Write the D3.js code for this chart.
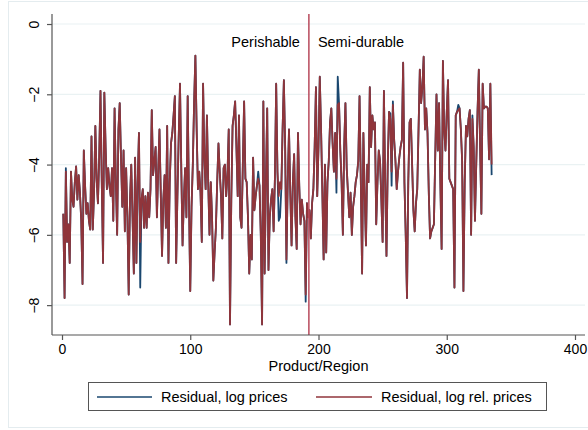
<!DOCTYPE html>
<html><head><meta charset="utf-8">
<script src="https://cdn.jsdelivr.net/npm/d3@7"></script>
<style>body{margin:0;background:#fff}svg{display:block}text{font-family:"Liberation Sans",Arial,Helvetica,sans-serif;fill:#000}</style>
</head><body><svg id="c" width="588" height="430"></svg>
<script>
// Residual, log rel. prices, product/region 1..335
const residRel = [
-5.4,-7.8,-4.2,-6.2,-5.7,-6.8,-4.2,-5.0,-5.2,-4.5,
-4.05,-5.0,-4.3,-4.8,-5.6,-7.4,-3.6,-4.6,-5.4,-5.1,
-5.6,-5.85,-3.2,-5.85,-4.8,-2.9,-4.4,-5.1,-3.8,-1.9,
-4.5,-6.8,-1.95,-3.5,-4.7,-4.1,-4.6,-4.9,-4.1,-5.6,
-2.4,-4.5,-6.0,-3.0,-2.25,-3.8,-5.2,-3.6,-5.9,-4.1,
-5.5,-7.7,-5.0,-4.0,-5.5,-7.1,-3.8,-6.8,-4.5,-3.1,
-6.2,-5.0,-4.7,-5.8,-4.9,-5.8,-4.8,-5.5,-4.7,-2.45,
-4.3,-3.9,-3.5,-5.5,-4.2,-3.0,-4.8,-6.6,-5.0,-4.3,
-5.8,-2.9,-6.8,-4.5,-3.4,-3.1,-2.6,-2.05,-6.8,-4.9,
-3.2,-1.7,-4.1,-6.3,-5.0,-4.1,-5.5,-2.05,-5.0,-7.6,
-5.2,-4.0,-2.25,-0.9,-3.0,-4.7,-4.2,-4.8,-6.2,-1.7,
-3.8,-4.7,-2.6,-4.5,-6.0,-4.5,-5.5,-7.3,-6.5,-5.8,
-4.5,-3.4,-4.2,-4.9,-6.1,-4.1,-4.0,-4.9,-4.3,-3.0,
-8.55,-5.0,-2.9,-2.6,-2.2,-3.5,-4.9,-2.6,-5.5,-5.8,
-4.0,-2.2,-4.4,-4.5,-5.5,-7.1,-6.0,-6.7,-3.8,-5.3,
-4.9,-4.6,-4.4,-4.6,-6.0,-8.55,-2.2,-7.1,-4.5,-2.4,
-7.0,-5.5,-5.0,-4.7,-5.9,-4.4,-1.7,-4.2,-4.9,-4.5,
-4.7,-3.0,-1.6,-3.5,-6.7,-4.5,-3.0,-4.8,-6.3,-4.5,
-3.7,-5.5,-6.4,-3.1,-4.6,-5.7,-5.0,-5.4,-5.6,-7.7,
-5.1,-5.5,-5.3,-6.1,-5.1,-4.7,-3.5,-1.8,-4.9,-3.5,
-1.5,-3.0,-4.8,-6.7,-4.0,-6.5,-4.5,-3.9,-2.8,-2.4,
-3.4,-4.2,-3.1,-4.4,-2.3,-2.25,-3.6,-4.5,-6.0,-3.5,
-2.25,-4.1,-4.8,-5.5,-4.8,-6.0,-5.2,-4.9,-4.5,-4.3,
-3.9,-2.05,-4.5,-7.1,-3.1,-4.8,-6.3,-4.0,-4.5,-1.8,
-3.5,-2.6,-3.0,-2.8,-5.7,-4.5,-3.6,-3.9,-5.0,-6.2,
-1.9,-4.5,-6.6,-4.0,-2.5,-2.7,-4.2,-2.3,-3.3,-3.9,
-4.7,-4.2,-3.8,-3.5,-3.3,-1.1,-4.5,-6.0,-7.8,-4.5,
-2.8,-2.7,-4.0,-5.3,-5.9,-5.1,-4.7,-3.0,-1.3,-2.25,
-1.8,-0.93,-3.0,-2.4,-3.1,-4.8,-6.1,-5.9,-5.8,-5.7,
-3.8,-2.0,-3.6,-2.25,-4.5,-6.4,-1.05,-3.0,-3.6,-2.5,
-1.6,-4.4,-4.5,-4.6,-4.7,-7.5,-2.6,-2.5,-2.45,-2.4,
-3.0,-3.9,-7.6,-4.5,-2.9,-3.2,-2.7,-2.45,-6.0,-2.7,
-3.5,-5.6,-4.0,-2.5,-1.3,-3.5,-5.4,-1.7,-2.4,-2.35,
-2.35,-2.4,-3.85,-1.7,-4.0
];
// Residual, log prices: points where it differs from the rel. series [product, value]
const logPriceDiffs = [[3,-4.1],[61,-7.5],[153,-4.2],[169,-5.6],[170,-5.5],[175,-6.8],[190,-7.9],
  [214,-4.8],[215,-1.5],[256,-2.55],[257,-4.6],[258,-2.2],[309,-2.3],[320,-2.6],[335,-4.3]];
const xTicks = [0,100,200,300,400];
const yTicks = [0,-2,-4,-6,-8];
const splitAt = 192.5;
const groupLabels = ["Perishable","Semi-durable"];
const seriesNames = ["Residual, log prices","Residual, log rel. prices"];
const colors = ["#1a476f","#90353b"];

const products = d3.range(1, residRel.length + 1);
const relData = products.map((p,i)=>({x:p,y:residRel[i]}));
const diffMap = new Map(logPriceDiffs);
const logData = products.map((p,i)=>({x:p,y:diffMap.has(p)?diffMap.get(p):residRel[i]}));

const svg = d3.select("#c");
const L=52,R=585,T=14,B=335;
const x = d3.scaleLinear().domain([-7.8,407.8]).range([L,R]);
const y = d3.scaleLinear().domain([-8.85,0.285]).range([B,T]);

svg.append("rect").attr("x",8.5).attr("y",1.5).attr("width",585).attr("height",426)
  .attr("fill","#fff").attr("stroke","#e4ecef").attr("stroke-width",1);

// grid
svg.append("g").selectAll("line").data(yTicks).join("line")
  .attr("x1",L).attr("x2",R).attr("y1",d=>y(d)).attr("y2",d=>y(d))
  .attr("stroke","#eaf2f3").attr("stroke-width",1.2);

const line = d3.line().x(d=>x(d.x)).y(d=>y(d.y));
svg.append("path").datum(logData).attr("d",line).attr("fill","none")
  .attr("stroke",colors[0]).attr("stroke-width",1.8).attr("stroke-linejoin","round");
svg.append("path").datum(relData).attr("d",line).attr("fill","none")
  .attr("stroke",colors[1]).attr("stroke-width",1.8).attr("stroke-linejoin","round");

// xline
svg.append("line").attr("x1",x(splitAt)).attr("x2",x(splitAt)).attr("y1",T).attr("y2",B)
  .attr("stroke","#b84a5c").attr("stroke-width",1.5);
svg.append("text").attr("x",x(splitAt)-9).attr("y",47).attr("text-anchor","end")
  .style("font-size","14.5px").text(groupLabels[0]);
svg.append("text").attr("x",x(splitAt)+9).attr("y",47).attr("text-anchor","start")
  .style("font-size","14.5px").text(groupLabels[1]);

// axes
const ax = d3.axisBottom(x).tickValues(xTicks).tickSize(5).tickPadding(4);
const gx = svg.append("g").attr("transform",`translate(0,${B})`).call(ax);
gx.select(".domain").attr("d",`M${L},0H${R}`);
gx.selectAll("line,path").attr("stroke","#555").attr("stroke-width",1.2);
gx.selectAll("text").style("font-size","14px").attr("fill","#000");

const ay = d3.axisLeft(y).tickValues(yTicks).tickSize(5).tickFormat(d3.format("d"));
const gy = svg.append("g").attr("transform",`translate(${L},0)`).call(ay);
gy.select(".domain").attr("d",`M0,${T}V${B}`);
gy.selectAll("line,path").attr("stroke","#555").attr("stroke-width",1.2);
gy.selectAll("text").style("font-size","14px").attr("fill","#000")
  .attr("x",null).attr("dy",null).attr("text-anchor","middle")
  .attr("transform","translate(-17,0) rotate(-90)").attr("dominant-baseline","middle").attr("y",0);

svg.append("text").attr("x",(L+R)/2).attr("y",371).attr("text-anchor","middle")
  .style("font-size","14.5px").text("Product/Region");

// legend
const lg = svg.append("g");
lg.append("rect").attr("x",88.5).attr("y",382.5).attr("width",458).attr("height",28)
  .attr("fill","#fff").attr("stroke","#555").attr("stroke-width",1);
const items=[{x0:97,x1:152,tx:161},{x0:316,x1:372,tx:381}];
items.forEach((it,i)=>{
  lg.append("line").attr("x1",it.x0).attr("x2",it.x1).attr("y1",397).attr("y2",397)
    .attr("stroke",colors[i]).attr("stroke-width",1.5);
  lg.append("text").attr("x",it.tx).attr("y",402).style("font-size","14.5px").text(seriesNames[i]);
});
</script></body></html>
